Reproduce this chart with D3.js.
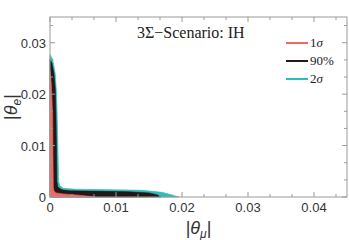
<!DOCTYPE html>
<html>
<head>
<meta charset="utf-8">
<script src="https://cdn.jsdelivr.net/npm/d3@7"></script>
<style>
  body { margin: 0; background: #fff; }
  svg { display: block; }
</style>
</head>
<body>
<script>
// data: boundaries of the allowed regions (x = |theta_mu|, y = |theta_e|)
var sig2X = [0, 0.0004, 0.0008, 0.001, 0.0012, 0.0013, 0.0015, 0.002, 0.004, 0.010, 0.014, 0.017, 0.0185, 0.0195];
var sig2Y = [0.0277, 0.0268, 0.024, 0.020, 0.010, 0.003, 0.0022, 0.0017, 0.0015, 0.0014, 0.0013, 0.0009, 0.0004, 0];

var c90X = [0, 0.0003, 0.0006, 0.0008, 0.0009, 0.001, 0.00105, 0.0012, 0.0018, 0.003, 0.008, 0.012, 0.015, 0.0163, 0.0168];
var c90Y = [0.0268, 0.026, 0.024, 0.021, 0.016, 0.008, 0.003, 0.0019, 0.0014, 0.0012, 0.0011, 0.0010, 0.0008, 0.0004, 0];

var sig1X = [0, 0.0002, 0.0004, 0.00045, 0.0005, 0.0006, 0.0009, 0.002, 0.004, 0.0055, 0.0068];
var sig1Y = [0.0245, 0.022, 0.016, 0.008, 0.002, 0.0012, 0.0008, 0.0006, 0.0004, 0.0002, 0];

var xTicks = [0, 0.01, 0.02, 0.03, 0.04];
var xTickLabels = ["0", "0.01", "0.02", "0.03", "0.04"];
var yTicks = [0, 0.01, 0.02, 0.03];
var yTickLabels = ["0", "0.01", "0.02", "0.03"];
var legendNames = ["1\u03c3", "90%", "2\u03c3"];
var legendColors = ["#ef6a63", "#231815", "#2cbcbc"];

var width = 349, height = 240;
var margin = {left: 50, top: 17, right: 2, bottom: 43};

var x = d3.scaleLinear().domain([0, 0.045]).range([margin.left, width - margin.right]);
var y = d3.scaleLinear().domain([0, 0.035]).range([height - margin.bottom, margin.top]);

var svg = d3.select("body").append("svg").attr("width", width).attr("height", height);

// regions (largest first)
function pts(xs, ys) {
  var p = xs.map(function(v, i) { return [v, ys[i]]; });
  p.push([0, 0]);
  return p;
}
var area = d3.line().x(function(d) { return x(d[0]); }).y(function(d) { return y(d[1]); })
  .curve(d3.curveLinearClosed);

var regions = [
  {p: pts(sig2X, sig2Y), c: legendColors[2]},
  {p: pts(c90X, c90Y), c: legendColors[1]},
  {p: pts(sig1X, sig1Y), c: legendColors[0]}
];
svg.selectAll("path.region").data(regions).enter().append("path")
  .attr("class", "region")
  .attr("d", function(d) { return area(d.p); })
  .attr("fill", function(d) { return d.c; })
  .attr("stroke", function(d) { return d.c; })
  .attr("stroke-width", 0.6);

// frame
var frameColor = "#9a9a9a";
svg.append("rect")
  .attr("x", x(0)).attr("y", y(0.035))
  .attr("width", x(0.045) - x(0)).attr("height", y(0) - y(0.035))
  .attr("fill", "none").attr("stroke", frameColor).attr("stroke-width", 1);

// ticks (every 1/3 of 0.01)
var minorX = d3.range(0, 0.045, 0.01 / 3);
var minorY = d3.range(0, 0.035, 0.01 / 3);
function isMajor(v) { return Math.abs(v * 100 - Math.round(v * 100)) < 1e-6; }
var tk = svg.append("g").attr("stroke", frameColor).attr("stroke-width", 1);
minorX.forEach(function(v) {
  var len = isMajor(v) ? 5 : 3;
  tk.append("line").attr("x1", x(v)).attr("x2", x(v)).attr("y1", y(0)).attr("y2", y(0) - len);
  tk.append("line").attr("x1", x(v)).attr("x2", x(v)).attr("y1", y(0.035)).attr("y2", y(0.035) + len);
});
minorY.forEach(function(v) {
  var len = isMajor(v) ? 5 : 3;
  tk.append("line").attr("y1", y(v)).attr("y2", y(v)).attr("x1", x(0)).attr("x2", x(0) + len);
  tk.append("line").attr("y1", y(v)).attr("y2", y(v)).attr("x1", x(0.045)).attr("x2", x(0.045) - len);
});

// tick labels
var lab = svg.append("g").attr("font-family", "'Liberation Sans', Arial, sans-serif")
  .attr("font-size", 13).attr("fill", "#333");
xTicks.forEach(function(v, i) {
  lab.append("text").attr("x", x(v)).attr("y", y(0) + 15).attr("text-anchor", "middle").text(xTickLabels[i]);
});
yTicks.forEach(function(v, i) {
  lab.append("text").attr("x", x(0) - 4).attr("y", y(v) + 5).attr("text-anchor", "end").text(yTickLabels[i]);
});

// axis titles
var xt = svg.append("text").attr("x", (x(0) + x(0.045)) / 2).attr("y", 234)
  .attr("text-anchor", "middle").attr("font-family", "'Liberation Sans', Arial, sans-serif")
  .attr("font-size", 18).attr("fill", "#333");
xt.append("tspan").text("|");
xt.append("tspan").attr("font-style", "italic").text("\u03b8");
xt.append("tspan").attr("font-style", "italic").attr("font-size", 12).attr("dy", 4).text("\u03bc");
xt.append("tspan").attr("dy", -4).text("|");

var yt = svg.append("text").attr("transform", "translate(17," + ((y(0) + y(0.035)) / 2) + ") rotate(-90)")
  .attr("text-anchor", "middle").attr("font-family", "'Liberation Sans', Arial, sans-serif")
  .attr("font-size", 18).attr("fill", "#333");
yt.append("tspan").text("|");
yt.append("tspan").attr("font-style", "italic").text("\u03b8");
yt.append("tspan").attr("font-style", "italic").attr("font-size", 12).attr("dy", 4).text("e");
yt.append("tspan").attr("dy", -4).text("|");

// title
svg.append("text").attr("x", 137).attr("y", 38)
  .attr("font-family", "'Liberation Serif', 'Times New Roman', serif")
  .attr("font-size", 16).attr("fill", "#222").text("3\u03a3\u2212Scenario: IH");

// legend
var leg = svg.append("g");
legendNames.forEach(function(n, i) {
  var ly = 43 + i * 18;
  leg.append("line").attr("x1", 286).attr("x2", 308).attr("y1", ly).attr("y2", ly)
    .attr("stroke", legendColors[i]).attr("stroke-width", 2);
  var t = leg.append("text").attr("x", 310).attr("y", ly + 4)
    .attr("font-family", "'Liberation Serif', 'Times New Roman', serif")
    .attr("font-size", 13).attr("fill", "#222");
  if (n.indexOf("\u03c3") >= 0) {
    t.append("tspan").text(n.charAt(0));
    t.append("tspan").attr("font-style", "italic").text("\u03c3");
  } else {
    t.text(n);
  }
});
</script>
</body>
</html>
